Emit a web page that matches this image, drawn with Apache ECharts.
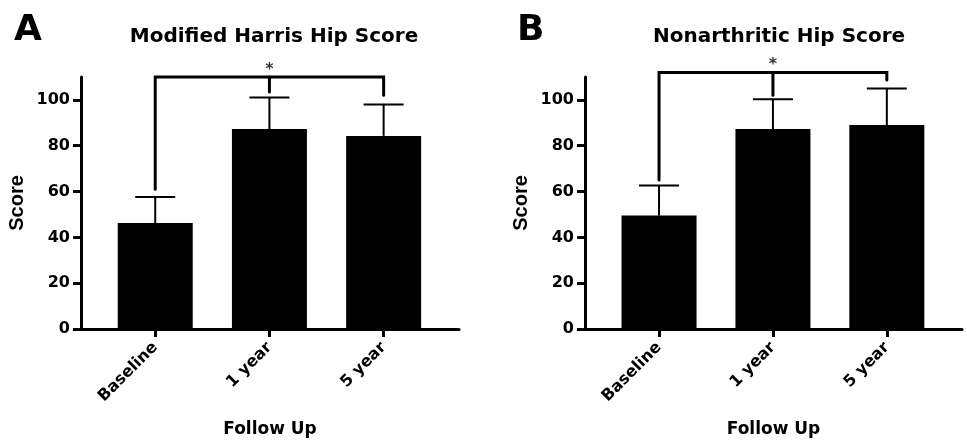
<!DOCTYPE html>
<html>
<head>
<meta charset="utf-8">
<script src="https://cdn.jsdelivr.net/npm/echarts@6/dist/echarts.min.js"></script>
<style>
html,body{margin:0;padding:0;background:#fff;}
#chart{width:967px;height:447px;}
</style>
</head>
<body>
<div id="chart"></div>
<script>
const categories = ['Baseline', '1 year', '5 year'];
const catPos = [0, 1, 2];
const yTicks = [0, 20, 40, 60, 80, 100];

const meanA = [46.3, 87.3, 84.3];
const sdTopA = [57.6, 101, 98];
const bracketLevelA = 110;
const bracketDropsA = [61, 103.5, 102];

const meanB = [49.5, 87.3, 89];
const sdTopB = [62.6, 100.3, 105];
const bracketLevelB = 112;
const bracketDropsB = [65, 102, 108.7];

const titles = ['Modified Harris Hip Score', 'Nonarthritic Hip Score'];
const panelLetters = ['A', 'B'];

const FONT = 'DejaVu Sans';
const black = '#000';

function xAxisFor(idx) {
  return {
    type: 'value', gridIndex: idx, min: -0.65, max: 2.66,
    name: 'Follow Up', nameLocation: 'middle', nameGap: 92,
    nameTextStyle: {fontFamily: FONT, fontWeight: 'bold', fontSize: 17, color: black},
    axisLine: {show: true, onZero: false, lineStyle: {color: black, width: 3}},
    axisTick: {show: true, customValues: catPos, length: 8, lineStyle: {color: black, width: 3}},
    axisLabel: {show: true, customValues: catPos, rotate: 45, margin: 16,
      formatter: v => categories[Math.round(v)],
      fontFamily: FONT, fontWeight: 'bold', fontSize: 16, color: black},
    splitLine: {show: false}
  };
}
function yAxisFor(idx) {
  return {
    type: 'value', gridIndex: idx, min: 0, max: 110,
    name: 'Score', nameLocation: 'middle', nameGap: 54,
    nameTextStyle: {fontFamily: 'Liberation Sans', fontWeight: 'bold', fontSize: 20, color: black},
    axisLine: {show: true, onZero: false, lineStyle: {color: black, width: 3}},
    axisTick: {show: true, customValues: yTicks, length: 8, lineStyle: {color: black, width: 3}},
    axisLabel: {show: true, customValues: yTicks, margin: 11,
      fontFamily: FONT, fontWeight: 'bold', fontSize: 16, color: black},
    splitLine: {show: false}
  };
}
function errorRender(params, api) {
  const x = api.value(0);
  const base = api.coord([x, api.value(1)]);
  const top = api.coord([x, api.value(2)]);
  return {type: 'group', children: [
    {type: 'line', shape: {x1: base[0], y1: base[1], x2: top[0], y2: top[1]}, style: {stroke: black, lineWidth: 2}},
    {type: 'line', shape: {x1: top[0] - 20, y1: top[1], x2: top[0] + 20, y2: top[1]}, style: {stroke: black, lineWidth: 2}}
  ]};
}
function seriesFor(idx, mean, sdTop, level, drops) {
  return [
    {type: 'bar', xAxisIndex: idx, yAxisIndex: idx, barWidth: 75,
      itemStyle: {color: black}, data: catPos.map((c, i) => [c, mean[i]]), z: 2},
    {type: 'custom', xAxisIndex: idx, yAxisIndex: idx, renderItem: errorRender, clip: false,
      data: catPos.map((c, i) => [c, mean[i], sdTop[i]]), z: 3},
    {type: 'line', xAxisIndex: idx, yAxisIndex: idx, symbol: 'none', clip: false, z: 4,
      lineStyle: {color: black, width: 3, cap: 'round', join: 'miter'},
      data: [[catPos[0], drops[0]], [catPos[0], level], [catPos[2], level], [catPos[2], drops[2]]]},
    {type: 'line', xAxisIndex: idx, yAxisIndex: idx, symbol: 'none', clip: false, z: 4,
      lineStyle: {color: black, width: 3, cap: 'round'},
      data: [[catPos[1], level], [catPos[1], drops[1]]]},
    {type: 'scatter', xAxisIndex: idx, yAxisIndex: idx, symbolSize: 1, clip: false, z: 5,
      itemStyle: {color: 'rgba(0,0,0,0)'},
      label: {show: true, formatter: '*', position: 'top', distance: -1,
        fontFamily: FONT, fontWeight: 'bold', fontSize: 16, color: black},
      data: [[catPos[1], level]]}
  ];
}

const chart = echarts.init(document.getElementById('chart'), null, {renderer: 'canvas'});
chart.setOption({
  backgroundColor: '#fff',
  animation: false,
  title: [
    {text: panelLetters[0], left: 9, top: 8, textStyle: {fontFamily: FONT, fontWeight: 'bold', fontSize: 36, color: black}},
    {text: titles[0], left: 269, top: 22, textAlign: 'center', textStyle: {fontFamily: FONT, fontWeight: 'bold', fontSize: 20, color: black}},
    {text: panelLetters[1], left: 512, top: 8, textStyle: {fontFamily: FONT, fontWeight: 'bold', fontSize: 36, color: black}},
    {text: titles[1], left: 774, top: 22, textAlign: 'center', textStyle: {fontFamily: FONT, fontWeight: 'bold', fontSize: 20, color: black}}
  ],
  grid: [
    {left: 81, top: 77, width: 378, height: 252},
    {left: 585, top: 77, width: 377, height: 252}
  ],
  xAxis: [xAxisFor(0), xAxisFor(1)],
  yAxis: [yAxisFor(0), yAxisFor(1)],
  series: [].concat(
    seriesFor(0, meanA, sdTopA, bracketLevelA, bracketDropsA),
    seriesFor(1, meanB, sdTopB, bracketLevelB, bracketDropsB)
  )
});
</script>
</body>
</html>
